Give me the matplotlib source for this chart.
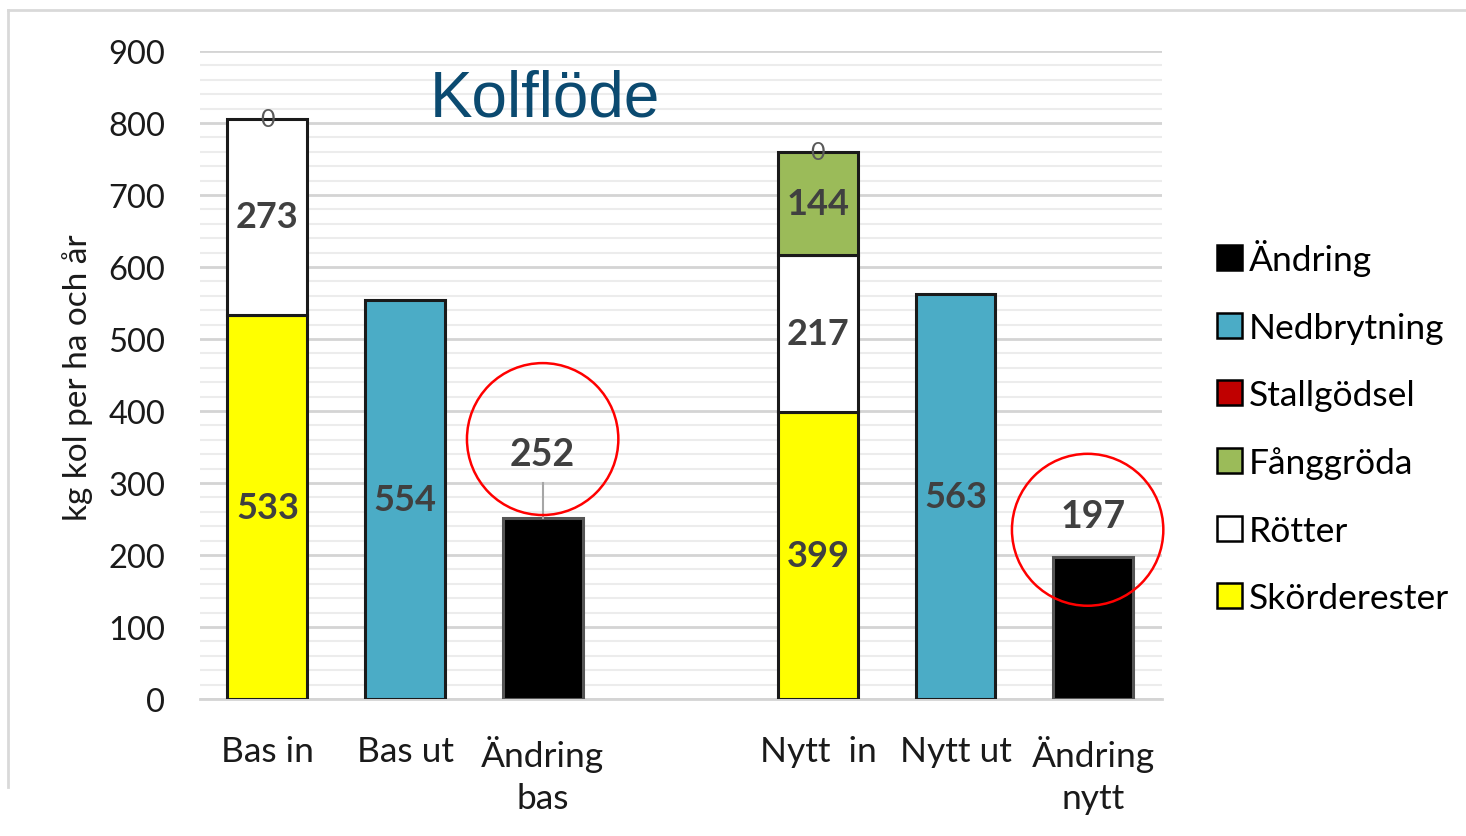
import numpy as np
import matplotlib
matplotlib.use("Agg")
import matplotlib.pyplot as plt
from matplotlib.patches import Patch, Ellipse
from matplotlib.lines import Line2D

# Data
kategorier = ["Bas in", "Bas ut", "Ändring\nbas", "Nytt  in", "Nytt ut", "Ändring\nnytt"]
x_pos = [0, 1, 2, 4, 5, 6]

skorderester = [533, 0, 0, 399, 0, 0]
rotter = [273, 0, 0, 217, 0, 0]
fanggroda = [0, 0, 0, 144, 0, 0]
stallgodsel = [0, 0, 0, 0, 0, 0]
nedbrytning = [0, 554, 0, 0, 563, 0]
andring = [0, 0, 252, 0, 0, 197]

serier = [
    ("Skörderester", skorderester, "#FFFF00"),
    ("Rötter", rotter, "#FFFFFF"),
    ("Fånggröda", fanggroda, "#9BBB59"),
    ("Stallgödsel", stallgodsel, "#C00000"),
    ("Nedbrytning", nedbrytning, "#4BACC6"),
    ("Ändring", andring, "#000000"),
]

font = ["Lato", "DejaVu Sans"]
plt.rcParams["font.family"] = font

fig = plt.figure(figsize=(14.66, 8.37), dpi=100)
ax = fig.add_axes([0.1364, 0.1637, 0.6562, 0.7742])

bottom = np.zeros(len(x_pos))
for namn, vals, farg in serier:
    vals = np.array(vals, dtype=float)
    for i, v in enumerate(vals):
        if v <= 0:
            continue
        ec = "#1a1a1a" if namn != "Ändring" else "#555555"
        ax.bar(x_pos[i], v, bottom=bottom[i], width=0.58, color=farg,
               edgecolor=ec, linewidth=2.2, zorder=3)
        if namn == "Ändring":
            continue
        ax.text(x_pos[i], bottom[i] + v / 2, f"{int(v)}", ha="center", va="center",
                fontsize=26, fontweight="bold", color="#404040", zorder=5)
    bottom += vals

# "0" labels on top of the inflow stacks
for i in [0, 3]:
    ax.text(x_pos[i], bottom[i], "0", ha="center", va="center", fontsize=18,
            color="#595959", zorder=5)

# Ändring labels above bars, inside red circles
andring_lbl_y = [340, 254]
for k, i in enumerate([2, 5]):
    ax.text(x_pos[i], andring_lbl_y[k], f"{andring[i]}", ha="center", va="center",
            fontsize=27, fontweight="bold", color="#404040", zorder=5)
ax.plot([x_pos[2], x_pos[2]], [300, andring[2]], color="#a6a6a6", lw=1.5, zorder=4)

for cx, cy in [(2.0, 361), (5.96, 235)]:
    ax.add_patch(Ellipse((cx, cy), width=1.1, height=211, fill=False,
                         edgecolor="#FF0000", linewidth=1.8, zorder=6, clip_on=False))

ax.set_xlim(-0.49, 6.5)
ax.set_ylim(0, 900)
ax.set_yticks(np.arange(0, 901, 100))
ax.set_yticks(np.arange(0, 901, 20), minor=True)
ax.grid(axis="y", which="major", color="#d4d4d4", lw=2, zorder=0)
ax.grid(axis="y", which="minor", color="#ececec", lw=1.5, zorder=0)
ax.set_xticks(x_pos)
ax.set_xticklabels(kategorier, fontsize=25.5, linespacing=1.4, color="#1a1a1a")
ax.tick_params(axis="x", length=0, pad=26)
ax.tick_params(axis="y", which="both", length=0, pad=25, labelsize=23.5, labelcolor="#1a1a1a")
for s in ["top", "right", "left"]:
    ax.spines[s].set_visible(False)
ax.spines["bottom"].set_color("#d4d4d4")
ax.spines["bottom"].set_linewidth(2)
ax.set_axisbelow(True)

fig.text(78 / 1466, 1 - 378 / 837, "kg kol per ha och år", rotation=90, ha="center",
         va="center", fontsize=24, color="#1a1a1a")
fig.text(545 / 1466, 1 - 100 / 837, "Kolflöde", ha="center", va="center",
         fontsize=46, color="#0B4A70", family="Liberation Sans")

handles = [Patch(facecolor=f, edgecolor="black", linewidth=1.8, label=n)
           for n, _, f in reversed(serier)]
fig.legend(handles=handles, loc="upper left", bbox_to_anchor=(1203 / 1466, 1 - 226 / 837),
           frameon=False, fontsize=25.5, handlelength=0.7, handleheight=0.7,
           handletextpad=0.2, labelspacing=1.0, borderaxespad=0)

# screenshot frame
fig.add_artist(Line2D([8 / 1466, 1], [1 - 11 / 837] * 2, color="#d9d9d9", lw=2))
fig.add_artist(Line2D([8 / 1466] * 2, [1 - 11 / 837, 1 - 788 / 837], color="#d9d9d9", lw=2))

plt.savefig("out.png", dpi=100)
